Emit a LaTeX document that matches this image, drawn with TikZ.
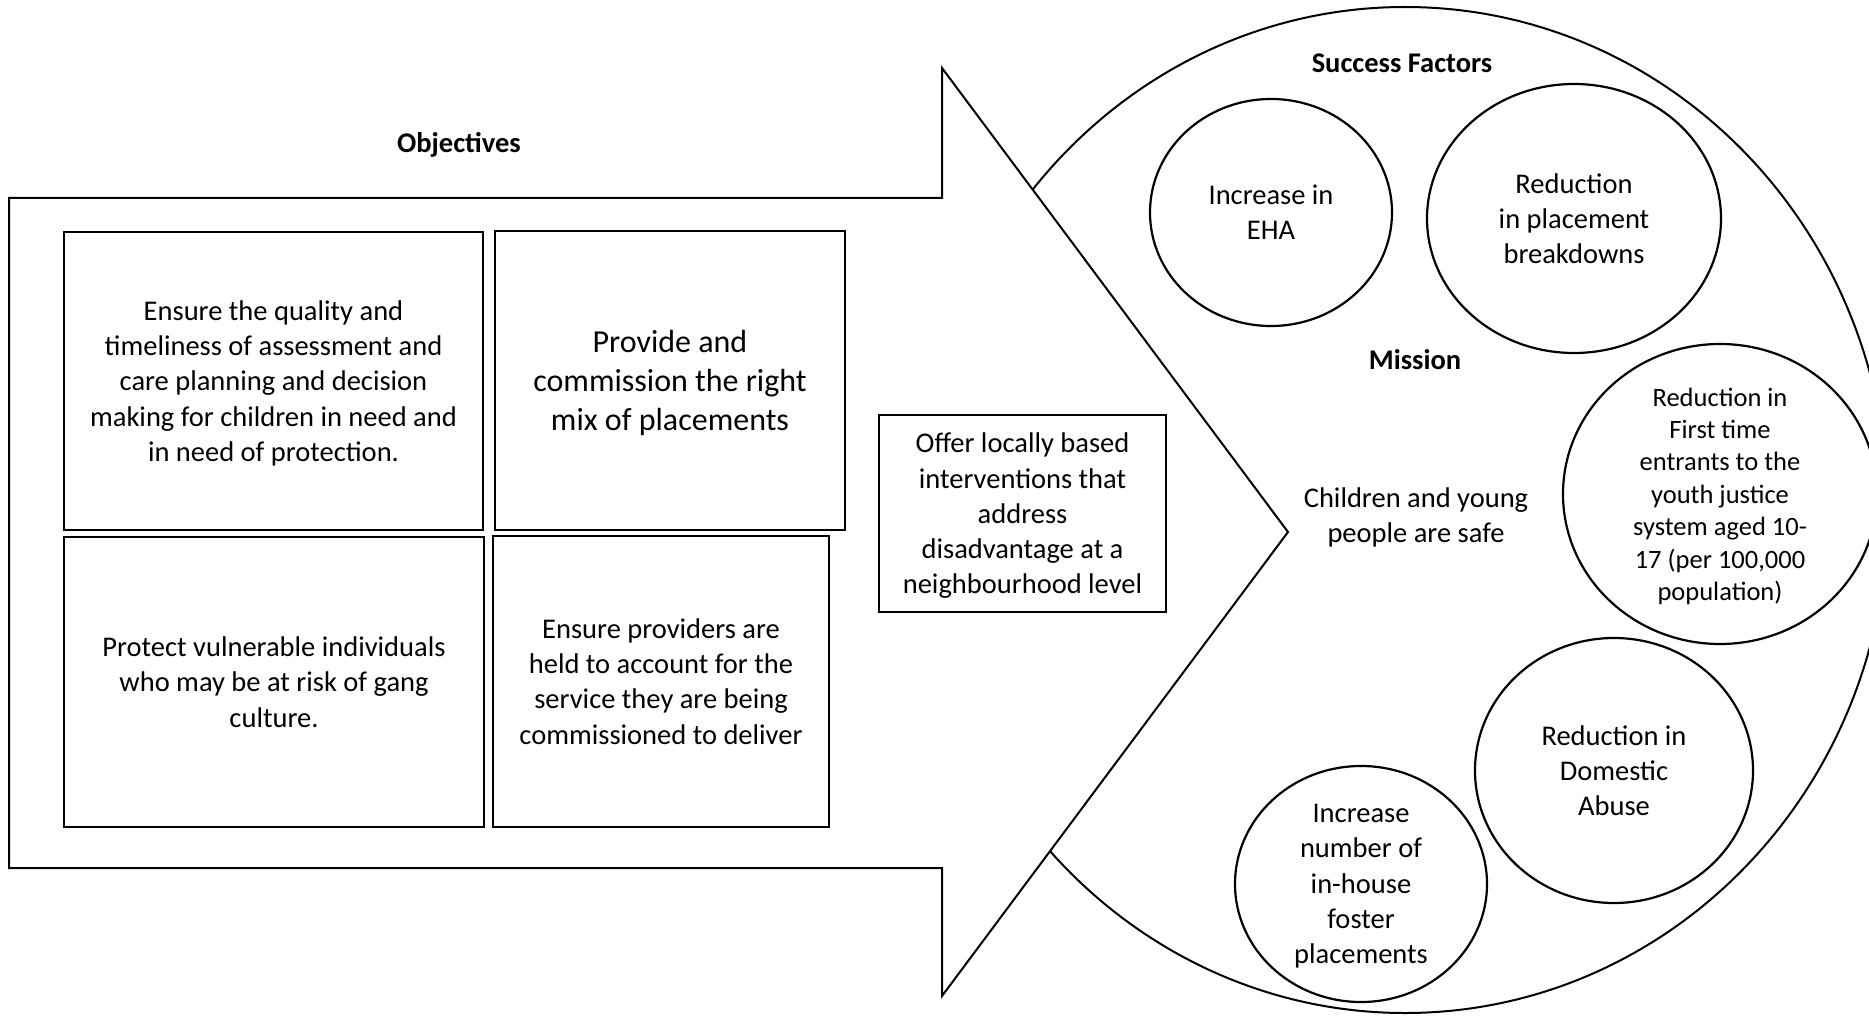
\documentclass[tikz,border=0pt]{standalone}
\usepackage{fontspec}
\setmainfont{Carlito}
\usetikzlibrary{shapes.geometric}
\begin{document}
\begin{tikzpicture}[x=1pt,y=-1pt,
  line width=2pt,
  txt/.style={align=center, inner sep=0pt, text depth=0pt, font=\fontsize{28.5}{35.2}\selectfont},
  bigtxt/.style={align=center, inner sep=0pt, text depth=0pt, font=\fontsize{32}{38.7}\selectfont},
  smalltxt/.style={align=center, inner sep=0pt, text depth=0pt, font=\fontsize{26.5}{32.4}\selectfont},
  headtxt/.style={inner sep=0pt, font=\fontsize{28.5}{35.2}\selectfont\bfseries},
  objbox/.style={draw, fill=white, line width=2.3pt, rectangle, inner sep=0pt},
  factor/.style={draw, fill=white, line width=2.2pt, ellipse, inner sep=0pt}
]
\useasboundingbox (0,0) rectangle (1869,1016);
\clip (0,0) rectangle (1869,1016);
\fill[white] (0,0) rectangle (1869,1016);

% big ellipse
\draw[fill=white] (1405,510) ellipse [x radius=483, y radius=503];

% arrow
\coordinate (a1) at (9,198);
\coordinate (a2) at (942,198);
\coordinate (a3) at (942,68);
\coordinate (tip) at (1288,532);
\coordinate (a5) at (942,996);
\coordinate (a6) at (942,868);
\coordinate (a7) at (9,868);
\draw[fill=white, line join=miter] (a1) -- (a2) -- (a3) -- (tip) -- (a5) -- (a6) -- (a7) -- cycle;

\node[headtxt] (objhead) at (459,145) {Objectives};

% objective boxes
\node[objbox, txt, minimum width=419, minimum height=298] (b1) at (273.5,381)
  {Ensure the quality and\\timeliness of assessment and\\care planning and decision\\making for children in need and\\in need of protection.};
\node[objbox, bigtxt, minimum width=350, minimum height=299] (b2) at (670,380.5)
  {Provide and\\commission the right\\mix of placements};
\node[objbox, txt, minimum width=420, minimum height=290] (b3) at (274,682)
  {Protect vulnerable individuals\\who may be at risk of gang\\culture.};
\node[objbox, txt, minimum width=336, minimum height=291] (b4) at (661,681.5)
  {Ensure providers are\\held to account for the\\service they are being\\commissioned to deliver};
\node[objbox, txt, minimum width=287, minimum height=197] (b5) at (1022.5,513.5)
  {Offer locally based\\interventions that\\address\\disadvantage at a\\neighbourhood level};

% headings and mission
\node[headtxt] (sfhead) at (1402,63) {Success Factors};
\node[headtxt] (mhead) at (1415,360) {Mission};
\node[txt] (mission) at (1416,515) {Children and young\\people are safe};

% success factor circles
\node[factor, minimum width=242, minimum height=227] (c1) at (1271,212.5) {};
\node[txt] (c1t) at (c1.center) {Increase in\\EHA};
\node[factor, minimum width=294, minimum height=269] (c2) at (1574,218.5) {};
\node[txt] (c2t) at (c2.center) {Reduction\\in placement\\breakdowns};
\node[factor, minimum width=314, minimum height=300] (c3) at (1720,494) {};
\node[smalltxt] (c3t) at (c3.center) {Reduction in\\First time\\entrants to the\\youth justice\\system aged 10-\\17 (per 100,000\\population)};
\node[factor, minimum width=278, minimum height=265] (c4) at (1614,770.5) {};
\node[txt] (c4t) at (c4.center) {Reduction in\\Domestic\\Abuse};
\node[factor, minimum width=252, minimum height=236] (c5) at (1361,884) {};
\node[txt] (c5t) at (c5.center) {Increase\\number of\\in-house\\foster\\placements};
\end{tikzpicture}
\end{document}
